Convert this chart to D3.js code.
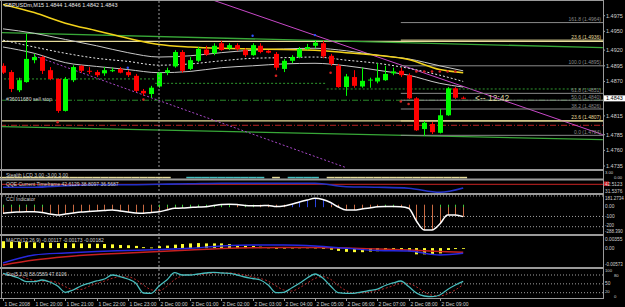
<!DOCTYPE html>
<html>
<head>
<meta charset="utf-8">
<script src="https://cdn.jsdelivr.net/npm/d3@7"></script>
<style>
  html, body { margin: 0; padding: 0; background: #000; }
  svg { display: block; }
  text { font-family: "Liberation Sans", Arial, sans-serif; }
</style>
</head>
<body>
<div id="chart"></div>
<script>
// GBPUSDm M15, 1 Dec 19:00 .. 2 Dec 09:45 (60 bars)
var open  = [1.4895,1.4885,1.4856,1.4869,1.4904,1.4909,1.4888,1.4874,1.4823,1.4872,
             1.4895,1.4887,1.4885,1.4883,1.4887,1.4890,1.4885,1.4879,1.4855,1.4850,
             1.4862,1.4884,1.4894,1.4917,1.4890,1.4903,1.4921,1.4915,1.4931,1.4923,
             1.4928,1.4920,1.4912,1.4927,1.4919,1.4914,1.4890,1.4903,1.4909,1.4922,
             1.4927,1.4931,1.4911,1.4895,1.4861,1.4877,1.4862,1.4872,1.4870,1.4872,
             1.4883,1.4887,1.4880,1.4843,1.4794,1.4802,1.4788,1.4816,1.4859,1.4844];
var high  = [1.4899,1.4888,1.4876,1.4946,1.4914,1.4911,1.4893,1.4875,1.4877,1.4896,
             1.4896,1.4893,1.4888,1.4893,1.4892,1.4893,1.4888,1.4882,1.4858,1.4863,
             1.4885,1.4892,1.4920,1.4920,1.4909,1.4925,1.4927,1.4931,1.4935,1.4931,
             1.4931,1.4923,1.4931,1.4931,1.4920,1.4917,1.4906,1.4912,1.4925,1.4930,
             1.4936,1.4935,1.4914,1.4898,1.4882,1.4888,1.4892,1.4876,1.4899,1.4895,
             1.4892,1.4892,1.4883,1.4845,1.4807,1.4805,1.4826,1.4861,1.4861,1.4846];
var low   = [1.4882,1.4853,1.4853,1.4868,1.4899,1.4882,1.4872,1.4820,1.4822,1.4869,
             1.4884,1.4882,1.4877,1.4879,1.4885,1.4883,1.4877,1.4853,1.4847,1.4844,
             1.4860,1.4880,1.4892,1.4884,1.4888,1.4901,1.4911,1.4912,1.4919,1.4920,
             1.4919,1.4909,1.4911,1.4915,1.4915,1.4888,1.4885,1.4899,1.4907,1.4920,
             1.4923,1.4907,1.4895,1.4860,1.4847,1.4860,1.4860,1.4860,1.4867,1.4871,
             1.4880,1.4877,1.4842,1.4791,1.4783,1.4786,1.4787,1.4815,1.4842,1.4842];
var close = [1.4884,1.4858,1.4872,1.4906,1.4909,1.4887,1.4874,1.4823,1.4874,1.4893,
             1.4887,1.4886,1.4880,1.4888,1.4888,1.4884,1.4880,1.4855,1.4851,1.4860,
             1.4884,1.4888,1.4917,1.4887,1.4904,1.4922,1.4913,1.4927,1.4920,1.4928,
             1.4922,1.4912,1.4928,1.4917,1.4916,1.4892,1.4903,1.4909,1.4922,1.4925,
             1.4932,1.4910,1.4898,1.4861,1.4878,1.4863,1.4871,1.4873,1.4876,1.4882,
             1.4886,1.4880,1.4843,1.4792,1.4804,1.4789,1.4816,1.4859,1.4844,1.4843];

// moving averages / envelope, sampled on the hour bars
var maBars   = [0,4,8,12,16,20,24,28,32,36,40,44,48,52,56,59];
var maSlow   = [1.4993,1.4980,1.4963,1.4951,1.4939,1.4929,1.4925,1.4923,1.4922,1.4921,1.4920,1.4916,1.4912,1.4905,1.4889,1.4884];
var envUpper = [1.4954,1.4947,1.4937,1.4927,1.4916,1.4909,1.4911,1.4916,1.4920,1.4922,1.4923,1.4919,1.4912,1.4906,1.4895,1.4887];
var envMid   = [1.4936,1.4925,1.4915,1.4907,1.4902,1.4896,1.4898,1.4903,1.4907,1.4908,1.4909,1.4904,1.4899,1.4891,1.4880,1.4870];
var envLower = [1.4925,1.4915,1.4900,1.4894,1.4889,1.4884,1.4886,1.4892,1.4895,1.4898,1.4899,1.4895,1.4888,1.4880,1.4867,1.4861];

// fractals (blue) and SAR dots (red)
var fracBars = [16, 32, 40];
var fracPrices = [1.4892, 1.4943, 1.4944];
var sarBars = [7, 18, 35, 42, 51, 52, 53, 54, 55, 56, 57, 58];
var sarPrices = [1.4805, 1.4841, 1.4879, 1.4884, 1.4838, 1.4834, 1.4886, 1.4886, 1.4886, 1.4886, 1.4886, 1.4886];

// stepped support level
var stepBars = [0, 20, 42];
var stepPrices = [1.4874, 1.4867, 1.4858];

// fibonacci levels
var fibNames  = ["161.8", "23.6", "100.0", "61.8", "50.0", "38.2", "23.6", "0.0"];
var fibPrices = [1.4964, 1.4936, 1.4895, 1.4851, 1.4840, 1.4826, 1.4807, 1.4784];
var fibStartBar = 51;

// price axis
var priceTicks = [1.4975, 1.4950, 1.4920, 1.4895, 1.4870, 1.4815, 1.4785, 1.4760, 1.4735];
var lastPrice = 1.4843;

// time axis
var timeBars = [0,4,8,12,16,20,24,28,32,36,40,44,48,52,56];
var timeLabels = ["1 Dec 2008","1 Dec 20:00","1 Dec 21:00","1 Dec 22:00","1 Dec 23:00",
  "2 Dec 00:00","2 Dec 01:00","2 Dec 02:00","2 Dec 03:00","2 Dec 04:00","2 Dec 05:00",
  "2 Dec 06:00","2 Dec 07:00","2 Dec 08:00","2 Dec 09:00"];

// Stealth LCD state: 1 yellow, 2 cyan, 0 none
var lcdState = [1,1,1,1,1,1,1,1,1,1,1,1,1,1,1,1,1,1,1,1,1,1,0,0,2,2,2,2,2,2,
                2,2,2,2,0,1,0,2,2,2,2,0,1,1,1,1,1,1,1,1,1,1,1,1,1,1,1,1,1,1];

// QQE line
var qqe = [38.8,38.8,40.7,42.0,42.0,42.6,43.2,43.9,43.9,43.9,43.9,39.5,38.8,37.6,32.5,37.9];
var qqeLevel = 42.5123;

// CCI
var cci = [-69,-61,-57,-54,-54,-61,-76,-86,-76,-66,-57,-52,-47,-42,-37,-47,-57,-66,-69,-61,
           -54,-37,-20,-18,-13,-8,-5,7,17,19,17,7,5,5,7,-3,2,19,41,60,
           77,65,36,-8,-37,-37,-27,-18,-5,-3,-3,-5,-20,-144,-232,-232,-174,-86,-86,-102];
var cciTrend = [1,1,1,1,1,1,-1,-1,-1,-1,-1,-1,-1,-1,-1,-1,-1,-1,-1,-1,
                1,1,1,1,1,1,1,1,1,1,-1,1,1,-1,-1,-1,-1,2,2,2,
                2,2,-1,-1,-1,-1,-1,-1,-1,1,1,-1,-1,-1,-1,-1,1,1,1,1];
var cciLevels = [100, -100, -200];

// MACD
var macdHist = [2.2,2.1,2.0,1.9,1.8,1.7,1.7,1.6,1.6,1.5,1.5,1.4,1.4,1.3,1.2,1.0,0.9,0.7,0.3,0.2,
                0.6,0.8,1.1,1.3,1.5,1.6,1.5,1.5,1.5,1.3,1.0,0.75,0.65,0.45,0.2,0.05,0.1,0.15,0.2,0.2,
                0.15,-0.1,-0.5,-0.9,-1.2,-1.3,-1.3,-1.1,-1.0,-0.7,-0.6,-0.7,-1.0,-2.0,-2.0,-2.2,-1.7,-0.6,-0.3,-0.1];
var macdMain = [-4.77,-2.21,-1.57,-1.09,-0.77,-0.45,-0.06,0.67,0.99,0.99,0.67,-0.06,-0.77,-0.93,-2.21,-1.66];
var macdSignal = [-5.41,-3.81,-2.75,-2.05,-1.57,-1.09,-0.61,-0.13,0.13,0.19,0.19,0.03,-0.29,-0.61,-1.09,-1.34];

// Stochastic
var stochMain = [85.8,78.3,69.8,57.3,57.3,63.1,56.3,42.7,21.4,29.2,42.7,51.9,59.7,66.4,80.0,74.9,66.4,52.9,19.0,18.0,
                 42.7,63.1,87.8,80.0,80.0,83.4,86.8,89.2,86.8,85.8,80.0,73.2,68.1,63.1,46.1,20.0,21.4,35.9,51.9,69.8,
                 83.4,69.8,42.7,20.0,18.0,18.0,22.4,27.5,32.5,44.4,52.9,59.7,41.0,19.0,8.8,6.4,12.2,30.8,46.1,58.06];
var stochSignal = [82,80,78,68.5,61.5,59.2,58.9,54,40.1,31.1,31.1,41.3,51.4,59.3,68.7,73.8,73.8,64.7,46.1,30,
                   26.6,41.3,64.5,77,82.6,81.1,83.4,86.5,87.6,87.3,84.2,79.7,73.8,68.1,59.1,43.1,29.2,25.8,36.4,52.5,
                   68.4,74.3,65.3,44.2,26.9,18.7,19.5,22.6,27.5,34.8,43.3,52.3,51.2,39.9,22.9,11.4,9.1,16.5,29.7,47.6];
var stochLevels = [80, 50, 20];

// ---------------------------------------------------------------
var W = 625, H = 307, right = 603;
var svg = d3.select("#chart").append("svg").attr("width", W).attr("height", H);
svg.append("rect").attr("width", W).attr("height", H).attr("fill", "#000");

var x = d3.scaleLinear().domain([0, 59]).range([3, 463.2]);
var y = d3.scaleLinear().domain([1.4735, 1.4975]).range([166, 15.7]);
var yQ = d3.scaleLinear().domain([31.5376, 46.68]).range([193, 181]);
var yC = d3.scaleLinear().domain([0, -100]).range([206.2, 216.45]);
var yM = d3.scaleLinear().domain([-0.00573, 0.00355]).range([266, 237]);
var yS = d3.scaleLinear().domain([0, 100]).range([298.6, 269.1]);

var defs = svg.append("defs");
defs.append("clipPath").attr("id", "clipMain").append("rect")
  .attr("x", 2).attr("y", 1).attr("width", right - 2).attr("height", 168);

var main = svg.append("g").attr("clip-path", "url(#clipMain)");

function txt(g, tx, ty, s, col, size) {
  return g.append("text").attr("x", tx).attr("y", ty).attr("fill", col || "#d8d8d8")
    .attr("font-size", (size || 5.5) + "px").text(s);
}

// horizontal lines
function hline(p, col, dash, w) {
  main.append("line").attr("x1", 0).attr("x2", right).attr("y1", y(p)).attr("y2", y(p))
    .attr("stroke", col).attr("stroke-width", w || 1).attr("stroke-dasharray", dash || null);
}
hline(1.4934, "#e6dc9a", null, 1.2);
hline(1.4807, "#e6dc9a", null, 1.2);
hline(1.4800, "#b82020", "6,2,1,2", 1);
hline(1.4840, "#2a8a2a", "6,2,1,2", 1);

// trend lines
function tline(b1, p1, b2, p2, col, dash, w) {
  main.append("line").attr("x1", x(b1)).attr("y1", y(p1)).attr("x2", x(b2)).attr("y2", y(p2))
    .attr("stroke", col).attr("stroke-width", w || 1).attr("stroke-dasharray", dash || null);
}
tline(-0.4, 1.4948, 76.9, 1.4924, "#38a838", null, 1.3);
tline(-0.4, 1.4798, 76.9, 1.4777, "#38a838", null, 1.3);
tline(26.9, 1.5000, 76.9, 1.4785, "#c848c8", null, 1);
tline(4, 1.4911, 43.85, 1.4733, "#a848c8", "2,2", 1);

// stepped support
stepBars.forEach(function (b, i) {
  var x1 = x(b - 0.5), x2 = i < stepBars.length - 1 ? x(stepBars[i + 1] - 0.5) : right;
  main.append("line").attr("x1", i === 0 ? 0 : x1).attr("x2", x2)
    .attr("y1", y(stepPrices[i])).attr("y2", y(stepPrices[i]))
    .attr("stroke", "#2f9a2f").attr("stroke-dasharray", "2,2");
});

// fib levels
fibPrices.forEach(function (p, i) {
  var yel = fibNames[i] === "23.6";
  main.append("line").attr("x1", x(fibStartBar)).attr("x2", right).attr("y1", y(p)).attr("y2", y(p))
    .attr("stroke", yel ? "#e6dc9a" : "#8a8a8a").attr("stroke-width", 1);
  txt(main, right - 2, y(p) - 1.5, fibNames[i] + "  (" + p.toFixed(4) + ")", yel ? "#e6dc9a" : "#8a8a8a", 5)
    .attr("text-anchor", "end");
});

// period separator
svg.append("line").attr("x1", x(20)).attr("x2", x(20)).attr("y1", 1).attr("y2", 298)
  .attr("stroke", "#9a9a9a").attr("stroke-dasharray", "2,2");

// MAs
function maLine(vals, col, dash, w) {
  main.append("path").datum(vals)
    .attr("d", d3.line().x(function (d, i) { return x(maBars[i]); }).y(function (d) { return y(d); })
      .curve(d3.curveMonotoneX))
    .attr("fill", "none").attr("stroke", col).attr("stroke-width", w || 1)
    .attr("stroke-dasharray", dash || null);
}
maLine(envLower, "#c8c8c8", null, 1);
maLine(envMid, "#e8e8e8", "2,2", 1);
maLine(envUpper, "#c8c8c8", null, 1);
maLine(maSlow, "#f2d21a", null, 1.5);

// candles
var bars = d3.range(open.length);
var cg = main.append("g");
cg.selectAll("line.wick").data(bars).enter().append("line")
  .attr("x1", function (i) { return Math.round(x(i)) + 0.5; })
  .attr("x2", function (i) { return Math.round(x(i)) + 0.5; })
  .attr("y1", function (i) { return y(high[i]); })
  .attr("y2", function (i) { return y(low[i]); })
  .attr("stroke", function (i) { return close[i] >= open[i] ? "#00ff00" : "#ff0000"; });
cg.selectAll("rect.body").data(bars).enter().append("rect")
  .attr("x", function (i) { return Math.round(x(i)) - 2; })
  .attr("width", 5)
  .attr("y", function (i) { return y(Math.max(open[i], close[i])); })
  .attr("height", function (i) { return Math.max(1, Math.abs(y(open[i]) - y(close[i]))); })
  .attr("fill", function (i) { return close[i] >= open[i] ? "#00ff00" : "#ff0000"; });

// dots
fracBars.forEach(function (b, i) {
  main.append("circle").attr("cx", x(b)).attr("cy", y(fracPrices[i])).attr("r", 1.2).attr("fill", "#3050ff");
});
sarBars.forEach(function (b, i) {
  main.append("circle").attr("cx", x(b)).attr("cy", y(sarPrices[i])).attr("r", 1.3).attr("fill", "#d42020");
});

// texts in main window
txt(svg, 4, 7, "GBPUSDm,M15  1.4844 1.4846 1.4842 1.4843", "#e8e8e8", 5.5);
txt(main, 6, y(1.4840) + 0.5, "#36011680 sell stop", "#d0d0d0", 5.2);
txt(svg, 475, y(lastPrice) + 3, "<-- 12:42", "#d8d4a0", 8.5);

// price axis
priceTicks.forEach(function (p) {
  txt(svg, 606, y(p) + 2, p.toFixed(4), "#d0d0d0", 5.5);
  svg.append("line").attr("x1", right).attr("x2", right + 2).attr("y1", y(p)).attr("y2", y(p)).attr("stroke", "#a0a0a0");
});
svg.append("rect").attr("x", right + 1).attr("y", y(lastPrice) - 3).attr("width", 21).attr("height", 6).attr("fill", "#ffffff");
txt(svg, 606, y(lastPrice) + 2, lastPrice.toFixed(4), "#000", 5.5);

// ----- Stealth LCD
lcdState.forEach(function (s, i) {
  if (!s) return;
  svg.append("line").attr("x1", x(i - 0.5)).attr("x2", x(i + 0.5)).attr("y1", 177.6).attr("y2", 177.6)
    .attr("stroke", s === 1 ? "#e6dc9a" : "#46c0c0").attr("stroke-width", 1.6);
});
txt(svg, 6, 176.5, "Stealth LCD 3.00 -3.00 3.00", "#d0d0d0", 5);
txt(svg, 605, 174.2, "3.00", "#d0d0d0", 4.2);
txt(svg, 614, 178.6, "0.00", "#d0d0d0", 4.2);

// ----- QQE
svg.append("line").attr("x1", 2).attr("x2", right).attr("y1", yQ(qqeLevel)).attr("y2", yQ(qqeLevel))
  .attr("stroke", "#a01c1c").attr("stroke-width", 1.2);
svg.append("path").datum(qqe)
  .attr("d", d3.line().x(function (d, i) { return x(maBars[i]); }).y(function (d) { return yQ(d); }).curve(d3.curveMonotoneX))
  .attr("fill", "none").attr("stroke", "#2432c8").attr("stroke-width", 1.6);
txt(svg, 6, 186, "QQE Current Timeframe 42.6129 38.8097 36.5687", "#d0d0d0", 5);
svg.append("rect").attr("x", right).attr("y", 181.5).attr("width", 6).attr("height", 4.5).attr("fill", "#d02020");
txt(svg, 605, 185.5, "42.5123", "#d0d0d0", 4.8);
txt(svg, 605, 193, "31.5376", "#d0d0d0", 4.8);

// ----- CCI
cciLevels.forEach(function (v) {
  svg.append("line").attr("x1", 2).attr("x2", right).attr("y1", yC(v)).attr("y2", yC(v))
    .attr("stroke", "#a0a0a0").attr("stroke-dasharray", "1,2");
});
bars.forEach(function (i) {
  var xi = Math.round(x(i)) + 0.5;
  svg.append("line").attr("x1", xi).attr("x2", xi).attr("y1", yC(0)).attr("y2", yC(cci[i]))
    .attr("stroke", cci[i] < 0 ? "#c86a42" : "#2a44e0");
  var tc = cciTrend[i] === 1 ? "#3cc83c" : cciTrend[i] === 2 ? "#2a44e0" : "#c86a42";
  svg.append("line").attr("x1", xi).attr("x2", xi).attr("y1", yC(0) - 1.5).attr("y2", yC(0) + 1)
    .attr("stroke", tc);
});
svg.append("path").datum(cci)
  .attr("d", d3.line().x(function (d, i) { return x(i); }).y(function (d) { return yC(d); }).curve(d3.curveMonotoneX))
  .attr("fill", "none").attr("stroke", "#ffffff").attr("stroke-width", 1.5);
txt(svg, 6, 201, "CCI Indicator", "#d0d0d0", 5);
txt(svg, 605, 199.5, "181.2734", "#d0d0d0", 4.5);
txt(svg, 605, yC(0) + 1.5, "0.00", "#d0d0d0", 4.8);
txt(svg, 605, yC(-100) + 1.5, "-100", "#d0d0d0", 4.8);
txt(svg, 605, yC(-200) + 0.5, "-200", "#d0d0d0", 4.5);
txt(svg, 605, 232.5, "-288.390", "#d0d0d0", 4.5);

// ----- MACD
svg.selectAll("rect.mh").data(bars).enter().append("rect")
  .attr("x", function (i) { return Math.round(x(i)) - 1; }).attr("width", 3)
  .attr("y", function (i) { return yM(Math.max(0, macdHist[i] / 1000)); })
  .attr("height", function (i) { return Math.max(0.8, Math.abs(yM(macdHist[i] / 1000) - yM(0))); })
  .attr("fill", "#ffff30");
var mLine = d3.line().x(function (d, i) { return x(maBars[i]); }).y(function (d) { return yM(d / 1000); }).curve(d3.curveMonotoneX);
svg.append("path").datum(macdSignal).attr("d", mLine).attr("fill", "none").attr("stroke", "#c82020").attr("stroke-width", 1.4);
svg.append("path").datum(macdMain).attr("d", mLine).attr("fill", "none").attr("stroke", "#2828e0").attr("stroke-width", 1.4);
txt(svg, 6, 242, "MACD(12,26,9) -0.00117 -0.00173 -0.00182", "#d0d0d0", 5);
txt(svg, 605, 240.5, "0.00355", "#d0d0d0", 4.8);
txt(svg, 605, yM(0) + 1.5, "0.00", "#d0d0d0", 4.8);
txt(svg, 605, 266, "-0.00573", "#d0d0d0", 4.5);

// ----- Stochastic
stochLevels.forEach(function (v) {
  svg.append("line").attr("x1", 2).attr("x2", right).attr("y1", yS(v)).attr("y2", yS(v))
    .attr("stroke", "#a0a0a0").attr("stroke-dasharray", "1,2");
});
var sLine = d3.line().x(function (d, i) { return x(i); }).y(function (d) { return yS(d); }).curve(d3.curveMonotoneX);
svg.append("path").datum(stochSignal).attr("d", sLine).attr("fill", "none").attr("stroke", "#b02828").attr("stroke-dasharray", "2,2");
svg.append("path").datum(stochMain).attr("d", sLine).attr("fill", "none").attr("stroke", "#48bcbc").attr("stroke-width", 1.3);
txt(svg, 6, 275.5, "Sto(5,3,3) 58.0589 47.6106", "#d0d0d0", 5);
txt(svg, 605, 272.2, "100", "#d0d0d0", 4.2);
txt(svg, 614, yS(80) + 1.5, "80", "#d0d0d0", 4.2);
txt(svg, 605, yS(50) + 1.5, "50", "#d0d0d0", 4.8);
txt(svg, 605, yS(20) + 0.5, "20", "#d0d0d0", 4.2);
txt(svg, 614, 298, "0", "#d0d0d0", 4.2);

// ----- frame and separators
[170, 179.5, 194, 235, 268].forEach(function (sy) {
  svg.append("rect").attr("x", 0).attr("y", sy - 1).attr("width", right + 1).attr("height", 2).attr("fill", "#9a9a9a");
});
svg.append("line").attr("x1", 0).attr("x2", right).attr("y1", 0.5).attr("y2", 0.5).attr("stroke", "#9a9a9a");
svg.append("line").attr("x1", 0).attr("x2", right).attr("y1", 298.5).attr("y2", 298.5).attr("stroke", "#9a9a9a");
svg.append("line").attr("x1", 1.5).attr("x2", 1.5).attr("y1", 0).attr("y2", 299).attr("stroke", "#9a9a9a");
svg.append("line").attr("x1", right + 0.5).attr("x2", right + 0.5).attr("y1", 0).attr("y2", 299).attr("stroke", "#9a9a9a");

// ----- time axis
timeBars.forEach(function (b, i) {
  var tx = Math.round(x(b)) + 0.5;
  svg.append("line").attr("x1", tx).attr("x2", tx).attr("y1", 298).attr("y2", 301).attr("stroke", "#9a9a9a");
  txt(svg, tx + 1, 305.5, timeLabels[i], "#d0d0d0", 5);
});
</script>
</body>
</html>
